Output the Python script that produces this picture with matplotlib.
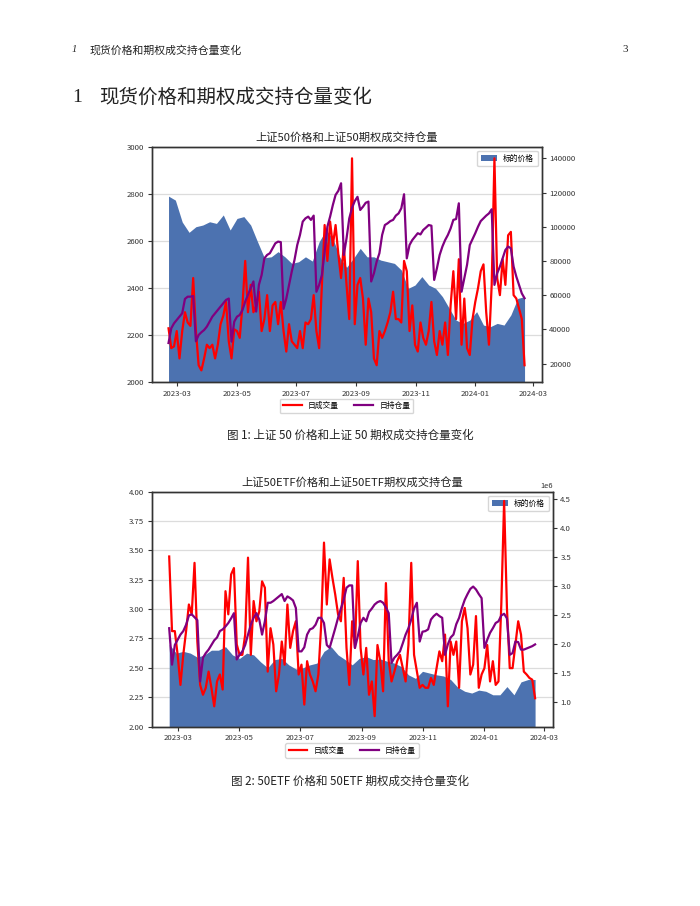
import numpy as np
import pandas as pd
import matplotlib
matplotlib.use('Agg')
import matplotlib.pyplot as plt
import matplotlib.dates as mdates
from matplotlib.ticker import MultipleLocator, FormatStrFormatter

plt.rcParams['font.family'] = ['Noto Sans CJK SC', 'DejaVu Sans']
plt.rcParams['axes.unicode_minus'] = False

# ---------------- data ----------------
line_start, line_end = '2023-02-20', '2024-02-21'

# 上证50 weekly price (fill)
sz50_price = [2790, 2773, 2680, 2636, 2660, 2667, 2681, 2674, 2710, 2646, 2695, 2703, 2667,
              2596, 2528, 2532, 2554, 2532, 2504, 2511, 2532, 2514, 2596, 2646, 2610, 2532,
              2487, 2525, 2568, 2532, 2532, 2518, 2511, 2504, 2476, 2398, 2412, 2448, 2412,
              2398, 2363, 2313, 2263, 2249, 2263, 2299, 2242, 2235, 2249, 2242, 2285, 2355, 2363]

# 上证50期权 日成交量
sz50_volume = [40600, 29000, 30000, 39000, 23000, 39000, 50000, 44000, 42000, 70000,
               39000, 19000, 16000, 23000, 31000, 29000, 31000, 23000, 31000, 43000,
               48000, 56000, 33000, 23000, 40000, 39000, 35000, 54000, 80000, 50000,
               66000, 50000, 54000, 62000, 39000, 46000, 60000, 39000, 54000, 56000,
               43000, 56000, 39000, 27000, 43000, 33000, 31000, 29000, 39000, 29000,
               44000, 43000, 46000, 60000, 39000, 29000, 66000, 101000, 80000, 103000,
               89000, 101000, 84000, 70000, 89000, 66000, 46000, 140000, 43000, 66000,
               70000, 58000, 31000, 58000, 50000, 23000, 19000, 39000, 35000, 39000,
               44000, 50000, 62000, 46000, 46000, 44000, 80000, 74000, 39000, 54000,
               31000, 27000, 44000, 35000, 31000, 39000, 56000, 33000, 25000, 39000,
               31000, 44000, 25000, 54000, 74000, 46000, 81000, 31000, 58000, 29000,
               25000, 46000, 56000, 64000, 74000, 78000, 50000, 31000, 66000, 140000,
               70000, 60000, 81000, 66000, 95000, 97000, 60000, 58000, 52000, 46000, 19000]

# 上证50期权 日持仓量
sz50_oi = [32000, 40600, 43500, 45500, 47400, 49400, 57800, 59100, 59100, 59500,
           33000, 36700, 38300, 39600, 41600, 44500, 47400, 49400, 51300, 53300,
           55200, 57200, 58000, 32800, 44500, 47400, 48400, 51300, 56200, 60100,
           64000, 68000, 50400, 66000, 71800, 81500, 83500, 84500, 87400, 90300,
           91300, 91000, 52000, 58000, 66000, 73800, 80600, 89300, 95200, 103000,
           104900, 105900, 104000, 106500, 62000, 66000, 71800, 85400, 100000, 105900,
           112700, 118600, 121000, 125400, 83500, 93200, 104900, 111000, 115000, 117500,
           109800, 111700, 114000, 114700, 68000, 72800, 79600, 84500, 95200, 101000,
           102000, 103300, 104000, 106500, 107800, 110800, 119000, 81500, 89300, 92200,
           94200, 96200, 95500, 98100, 99500, 101000, 100600, 68900, 75700, 83500,
           88400, 92200, 95200, 99000, 104000, 104500, 113700, 62000, 69800, 77700,
           89300, 92800, 96200, 100000, 103300, 104900, 106500, 107800, 110200, 66000,
           72800, 76700, 81500, 86400, 88400, 87400, 76700, 70800, 66000, 61000, 58200]

# 上证50ETF weekly price (fill)
etf_price = [2.70, 2.625, 2.64, 2.625, 2.59, 2.61, 2.65, 2.65, 2.68, 2.61, 2.58, 2.625, 2.61,
             2.55, 2.50, 2.57, 2.58, 2.525, 2.49, 2.50, 2.525, 2.54, 2.64, 2.68, 2.61, 2.57,
             2.525, 2.58, 2.595, 2.57, 2.575, 2.555, 2.54, 2.51, 2.44, 2.41, 2.47, 2.455, 2.44,
             2.43, 2.40, 2.335, 2.30, 2.285, 2.31, 2.30, 2.27, 2.27, 2.34, 2.27, 2.38, 2.40, 2.40]

# 上证50ETF期权 日成交量 (百万张)
etf_volume_m = [3.51, 2.22, 2.22, 1.81, 1.29, 1.81, 2.22, 2.68, 2.51, 3.40,
                2.04, 1.29, 1.12, 1.24, 1.52, 1.24, 0.92, 1.35, 1.47, 1.21,
                2.91, 2.51, 3.20, 3.31, 1.99, 1.81, 1.81, 2.16, 3.49, 1.81,
                2.74, 2.39, 2.56, 3.08, 2.97, 1.52, 2.27, 1.99, 1.18, 1.47,
                2.04, 1.64, 2.68, 1.93, 2.22, 2.39, 1.47, 1.64, 0.95, 1.70,
                1.47, 1.35, 1.18, 1.47, 2.33, 3.75, 2.68, 3.46, 3.14, 2.85,
                2.51, 2.39, 3.14, 1.93, 1.29, 2.39, 1.93, 3.43, 1.93, 1.47,
                1.93, 1.12, 1.35, 0.75, 1.98, 1.70, 1.18, 3.05, 1.70, 1.35,
                1.52, 1.70, 1.81, 1.58, 1.35, 1.98, 3.40, 1.81, 1.52, 1.24,
                1.29, 1.24, 1.24, 1.41, 1.29, 1.58, 1.87, 1.70, 2.16, 0.92,
                2.04, 1.81, 2.04, 1.24, 2.39, 2.62, 2.27, 1.47, 1.64, 2.48,
                1.24, 1.47, 1.58, 1.98, 1.35, 1.70, 1.29, 1.35, 2.68, 4.47,
                2.62, 1.58, 1.58, 1.98, 2.39, 2.16, 1.52, 1.47, 1.41, 1.38, 1.06]

# 上证50ETF期权 日持仓量 (百万张)
etf_oi_m = [2.27, 1.64, 1.98, 2.07, 2.16, 2.22, 2.33, 2.49, 2.51, 2.46,
            2.41, 1.35, 1.76, 1.84, 1.90, 1.98, 2.06, 2.11, 2.22, 2.25,
            2.30, 2.36, 2.44, 2.53, 1.73, 1.81, 1.87, 1.98, 2.16, 2.33,
            2.45, 2.53, 2.42, 2.16, 2.39, 2.71, 2.71, 2.74, 2.78, 2.82,
            2.86, 2.74, 2.82, 2.79, 2.75, 2.62, 1.87, 1.87, 1.94, 2.16,
            2.25, 2.27, 2.33, 2.45, 2.45, 2.36, 1.98, 1.93, 2.10, 2.27,
            2.45, 2.61, 2.76, 2.97, 3.01, 3.01, 1.93, 2.13, 2.36, 2.45,
            2.39, 2.55, 2.61, 2.68, 2.72, 2.74, 2.71, 2.63, 2.53, 1.67,
            1.76, 1.81, 1.87, 2.01, 2.16, 2.27, 2.42, 2.61, 2.71, 2.04,
            2.21, 2.22, 2.25, 2.42, 2.48, 2.52, 2.48, 2.45, 1.81, 1.99,
            2.11, 2.16, 2.34, 2.45, 2.62, 2.76, 2.86, 2.95, 2.99, 2.94,
            2.86, 2.79, 1.93, 2.07, 2.19, 2.27, 2.36, 2.39, 2.49, 2.52,
            2.44, 1.81, 1.84, 2.04, 2.03, 1.90, 1.90, 1.92, 1.94, 1.96, 1.99]

titles = ['上证50价格和上证50期权成交持仓量', '上证50ETF价格和上证50ETF期权成交持仓量']
captions = ['图 1: 上证 50 价格和上证 50 期权成交持仓量变化',
            '图 2: 50ETF 价格和 50ETF 期权成交持仓量变化']
legend_price = '标的价格'
legend_volume = '日成交量'
legend_oi = '日持仓量'

line_dates = pd.date_range(line_start, line_end, periods=len(sz50_volume))
price_dates = pd.date_range(line_start, line_end, periods=len(sz50_price))

# ---------------- figure ----------------
W, H = 700, 906
fig = plt.figure(figsize=(W / 100, H / 100), dpi=100)
fig.patch.set_facecolor('white')


def fx(px):
    return px / W


def fy(py):
    return 1 - py / H


TXT = '#222222'
fig.text(fx(71.5), fy(50), '1', fontsize=7.5, style='italic',
         family=['Liberation Serif'], va='center', color=TXT)
fig.text(fx(89), fy(50), '现货价格和期权成交持仓量变化', fontsize=7.8, va='center', color=TXT)
fig.text(fx(628), fy(50), '3', fontsize=7.8, family=['Liberation Serif'],
         va='center', ha='right', color=TXT)
fig.text(fx(72), fy(97), '1', fontsize=14, family=['Liberation Serif'],
         va='center', color=TXT)
fig.text(fx(99), fy(97), '现货价格和期权成交持仓量变化', fontsize=14, va='center', color=TXT)

BLUE = '#4c72b0'
SPINE = '#333333'
xlim = (pd.Timestamp('2023-02-02 12:00'), pd.Timestamp('2024-03-09 15:00'))


def style_axes(ax):
    for s in ax.spines.values():
        s.set_color(SPINE)
        s.set_linewidth(1.0)
    ax.tick_params(direction='out', length=3, width=0.8, color=SPINE,
                   labelsize=5.6, labelcolor='#333333', pad=2.5)


def make_chart(rect, price, price_base, price_lim, price_step, price_fmt,
               volume, oi, right_lim, right_step, title, title_xy, caption, cap_y):
    ax = fig.add_axes(rect)
    ax.fill_between(price_dates, price_base, price, color=BLUE, lw=0,
                    label=legend_price, zorder=2)
    ax.set_ylim(*price_lim)
    ax.yaxis.set_major_locator(MultipleLocator(price_step))
    if price_fmt:
        ax.yaxis.set_major_formatter(FormatStrFormatter(price_fmt))
    ax.set_xlim(*xlim)
    ax.xaxis.set_major_locator(mdates.MonthLocator(bymonth=[1, 3, 5, 7, 9, 11]))
    ax.xaxis.set_major_formatter(mdates.DateFormatter('%Y-%m'))
    ax.grid(axis='y', color='#dcdcdc', lw=0.9, zorder=0)
    ax.set_axisbelow(True)
    style_axes(ax)
    ax.legend(loc='upper right', fontsize=5.6, frameon=True, fancybox=True,
              edgecolor='#cccccc', handlelength=2.0, borderpad=0.5)

    ax2 = ax.twinx()
    ax2.plot(line_dates, volume, color='red', lw=1.6, label=legend_volume)
    ax2.plot(line_dates, oi, color='purple', lw=1.6, label=legend_oi)
    ax2.set_ylim(*right_lim)
    ax2.yaxis.set_major_locator(MultipleLocator(right_step))
    ax2.set_xlim(*xlim)
    style_axes(ax2)
    ax2.yaxis.get_offset_text().set_fontsize(5.4)
    ax2.legend(loc='center', bbox_to_anchor=(0.5, -0.102), ncol=2, fontsize=5.6,
               frameon=True, fancybox=True, edgecolor='#cccccc',
               handlelength=2.4, columnspacing=2.0)

    fig.text(fx(title_xy[0]), fy(title_xy[1]), title, fontsize=8.1,
             ha='center', va='center', color=TXT)
    fig.text(fx(350), fy(cap_y), caption, fontsize=8.3, ha='center', va='center',
             color=TXT)
    return ax, ax2


make_chart([fx(151.5), fy(382), 390.2 / W, 235.3 / H],
           sz50_price, 2000, (2000, 3000), 200, None,
           sz50_volume, sz50_oi, (9200, 146800), 20000,
           titles[0], (346.6, 138.3), captions[0], 435.7)

etf_volume = [v * 1e6 for v in etf_volume_m]
etf_oi = [v * 1e6 for v in etf_oi_m]
make_chart([fx(151.7), fy(726.5), 401.0 / W, 234.8 / H],
           etf_price, 2.0, (2.0, 4.0), 0.25, '%.2f',
           etf_volume, etf_oi, (0.571e6, 4.63e6), 0.5e6,
           titles[1], (352.2, 483), captions[1], 781)

fig.savefig('out.png', dpi=100, facecolor='white')
